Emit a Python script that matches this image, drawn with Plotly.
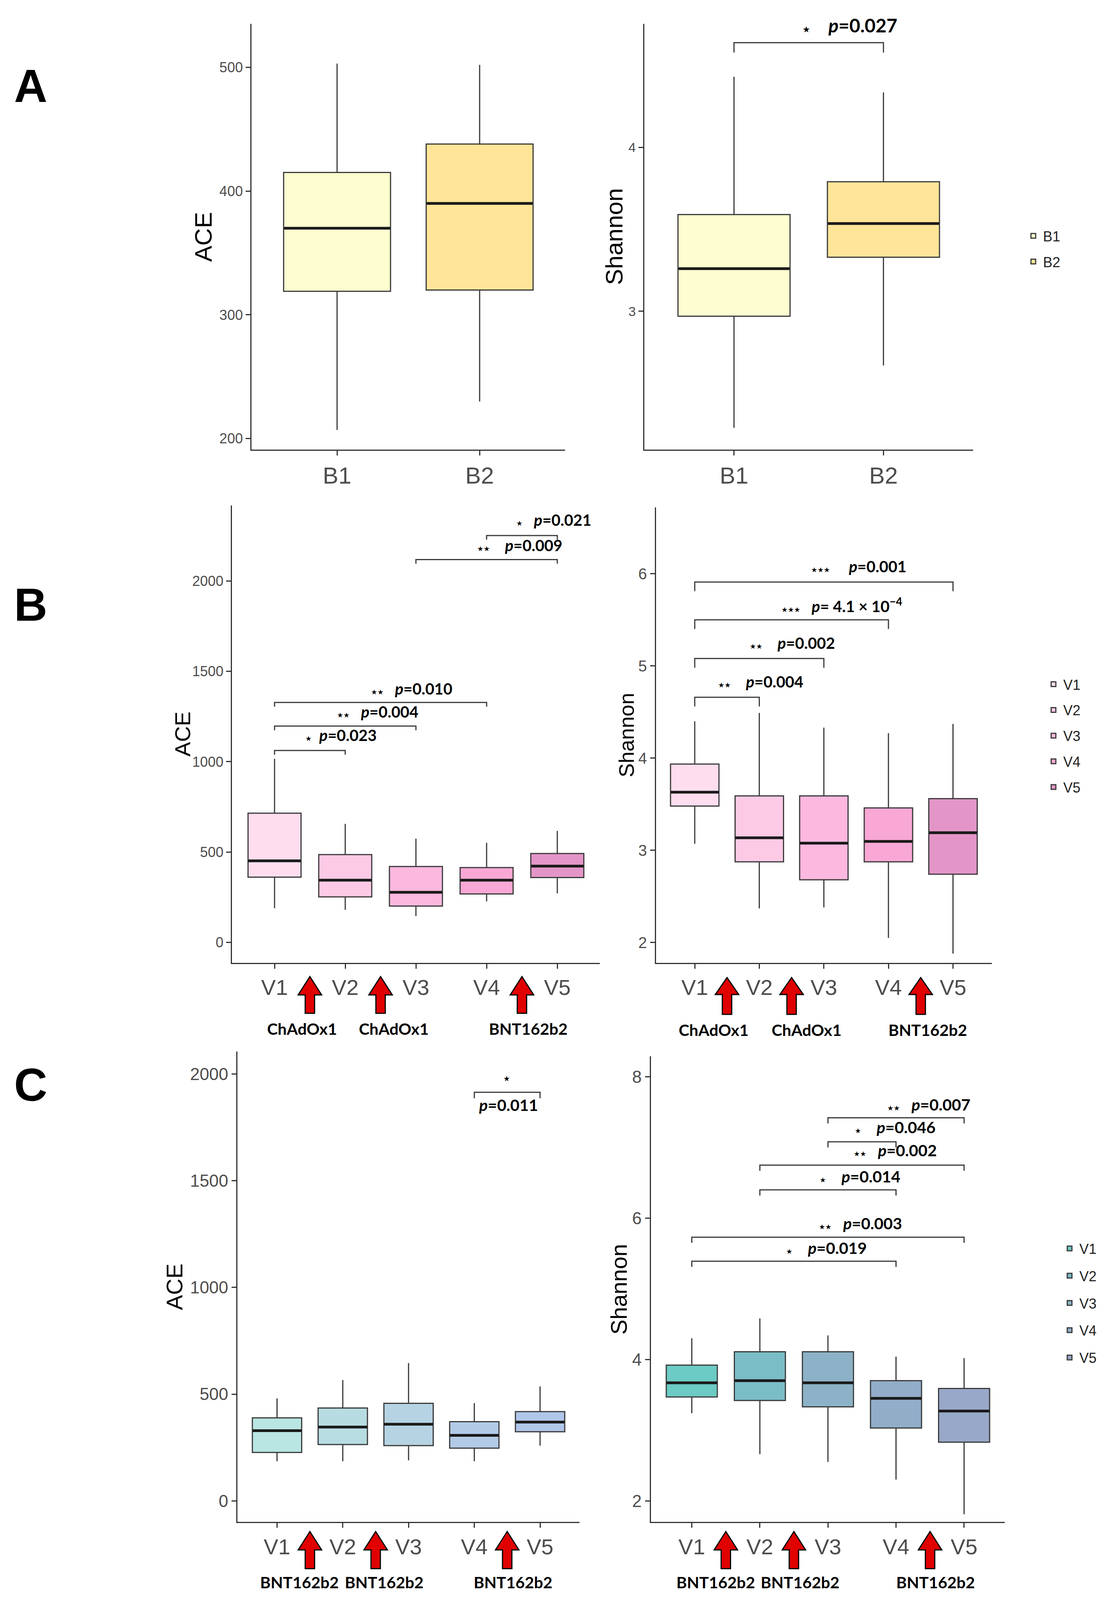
import plotly.graph_objects as go

# ------------------------------------------------------------------ data
a_groups = ["B1", "B2"]
a_ace_low = [207, 230]
a_ace_q1 = [319, 320]
a_ace_med = [370, 390]
a_ace_q3 = [415, 438]
a_ace_high = [503, 502]

a_sh_low = [2.29, 2.67]
a_sh_q1 = [2.97, 3.33]
a_sh_med = [3.26, 3.535]
a_sh_q3 = [3.59, 3.79]
a_sh_high = [4.43, 4.335]

visits = ["V1", "V2", "V3", "V4", "V5"]

b_ace_low = [189, 180, 145, 227, 271]
b_ace_q1 = [361, 252, 201, 268, 359]
b_ace_med = [451, 344, 277, 344, 422]
b_ace_q3 = [715, 486, 420, 414, 492]
b_ace_high = [1016, 656, 574, 551, 617]

b_sh_low = [3.07, 2.37, 2.38, 2.05, 1.88]
b_sh_q1 = [3.48, 2.875, 2.68, 2.875, 2.74]
b_sh_med = [3.63, 3.135, 3.077, 3.096, 3.19]
b_sh_q3 = [3.935, 3.59, 3.59, 3.46, 3.56]
b_sh_high = [4.40, 4.49, 4.33, 4.27, 4.37]

c_ace_low = [186, 186, 190, 186, 259]
c_ace_q1 = [227, 264, 259, 247, 324]
c_ace_med = [329, 346, 359, 307, 369]
c_ace_q3 = [389, 435, 457, 371, 418]
c_ace_high = [480, 566, 646, 458, 536]

c_sh_low = [3.24, 2.66, 2.55, 2.30, 1.81]
c_sh_q1 = [3.47, 3.42, 3.33, 3.03, 2.83]
c_sh_med = [3.67, 3.70, 3.67, 3.45, 3.27]
c_sh_q3 = [3.92, 4.11, 4.11, 3.70, 3.59]
c_sh_high = [4.30, 4.58, 4.34, 4.04, 4.02]

# significance brackets: group pairs, bracket heights, stars, p-value texts
a_sh_pairs = [(0, 1)]
a_sh_bracket_y = [4.638]
a_sh_stars = ["\u2605"]
a_sh_p = ["=0.027"]

b_ace_pairs = [(0, 1), (0, 2), (0, 3), (2, 4), (3, 4)]
b_ace_bracket_y = [1062, 1197, 1328, 2119, 2252]
b_ace_stars = ["\u2605", "\u2605\u2605", "\u2605\u2605", "\u2605\u2605", "\u2605"]
b_ace_p = ["=0.023", "=0.004", "=0.010", "=0.009", "=0.021"]

b_sh_pairs = [(0, 1), (0, 2), (0, 3), (0, 4)]
b_sh_bracket_y = [4.66, 5.08, 5.50, 5.91]
b_sh_stars = ["\u2605\u2605", "\u2605\u2605", "\u2605\u2605\u2605", "\u2605\u2605\u2605"]
b_sh_p = ["=0.004", "=0.002", "= 4.1 \u00d7 10<sup>\u22124</sup>", "=0.001"]

c_ace_pairs = [(3, 4)]
c_ace_bracket_y = [1914]
c_ace_stars = ["\u2605"]
c_ace_p = ["=0.011"]

c_sh_pairs = [(0, 3), (0, 4), (1, 3), (1, 4), (2, 3), (2, 4)]
c_sh_bracket_y = [5.39, 5.73, 6.40, 6.75, 7.08, 7.42]
c_sh_stars = ["\u2605", "\u2605\u2605", "\u2605", "\u2605\u2605", "\u2605", "\u2605\u2605"]
c_sh_p = ["=0.019", "=0.003", "=0.014", "=0.002", "=0.046", "=0.007"]

# vaccine doses given after these visit indices
b_dose_after = [0, 1, 3]
b_vaccines = ["ChAdOx1", "ChAdOx1", "BNT162b2"]
c_dose_after = [0, 1, 3]
c_vaccines = ["BNT162b2", "BNT162b2", "BNT162b2"]

# ------------------------------------------------------------------ styling
W, H = 2822, 4514          # reference geometry used for the layout fractions
TICK_GRAY = "#4d4d4d"
AX_COL = "#333333"
SANS = "Liberation Sans, Arial, sans-serif"
ANN = "Lato, Open Sans, sans-serif"
STAR_FONT = "DejaVu Sans"
NB = "\u00a0"

a_colors = ["#FDFDD0", "#FEE598"]
b_colors = ["#FDDDEE", "#FDCAE6", "#FCB8DE", "#F9A8D6", "#E495C8"]
c_left_colors = ["#B9E5E3", "#B7DDE2", "#B6D3E3", "#B2CAE6", "#AFC6E9"]
c_right_colors = ["#6CCBC4", "#7ABDC7", "#8DB2C7", "#91ADC8", "#98A8C8"]


def px_x(p):
    return p / W


def px_y(p):
    return 1 - p / H


fig = go.Figure()

# panel geometry (pixel boxes of the axis frames in the reference)
panels = {
    1: dict(x=(640, 1448), y=(59, 1265), xr=[-0.6, 1.6], yr=[191, 535]),
    2: dict(x=(1652, 2499), y=(59, 1265), xr=[-0.6, 1.6], yr=[2.156, 4.752]),
    3: dict(x=(590, 1537), y=(1423, 2718), xr=[-0.6, 4.6], yr=[-113, 2418]),
    4: dict(x=(1682, 2547), y=(1428, 2718), xr=[-0.6, 4.6], yr=[1.78, 6.72]),
    5: dict(x=(604, 1485), y=(2970, 4302), xr=[-0.6, 4.6], yr=[-99, 2104]),
    6: dict(x=(1669, 2581), y=(2983, 4302), xr=[-0.6, 4.6], yr=[1.70, 8.29]),
}


def axn(i):
    return "" if i == 1 else str(i)


def add_boxes(i, groups, low, q1, med, q3, high, colors, legend_name, showlegend):
    xa, ya = "x" + axn(i), "y" + axn(i)
    for k, g in enumerate(groups):
        fig.add_trace(go.Box(
            x=[k], q1=[q1[k]], median=[med[k]], q3=[q3[k]],
            lowerfence=[low[k]], upperfence=[high[k]],
            name=g, fillcolor=colors[k],
            line=dict(color="#3a3a3a", width=3),
            whiskerwidth=0, width=0.75, boxpoints=False,
            xaxis=xa, yaxis=ya, showlegend=showlegend,
            legend=legend_name, legendgroup=legend_name + g,
            hoverinfo="skip",
        ))
    # thick median bars
    mx, my = [], []
    for k in range(len(groups)):
        mx += [k - 0.372, k + 0.372, None]
        my += [med[k], med[k], None]
    fig.add_trace(go.Scatter(x=mx, y=my, mode="lines",
                             line=dict(color="#1a1a1a", width=7),
                             xaxis=xa, yaxis=ya, showlegend=False,
                             hoverinfo="skip"))


def add_brackets(i, pairs, heights, tick):
    xa, ya = "x" + axn(i), "y" + axn(i)
    bx, by = [], []
    for (g1, g2), h in zip(pairs, heights):
        bx += [g1, g1, g2, g2, None]
        by += [h - tick, h, h, h - tick, None]
    fig.add_trace(go.Scatter(x=bx, y=by, mode="lines",
                             line=dict(color="#3a3a3a", width=3),
                             xaxis=xa, yaxis=ya, showlegend=False,
                             hoverinfo="skip", cliponaxis=False))


def sig_label(stars, ptxt, star_size, gap):
    return (f"<span style='font-family:{STAR_FONT};font-size:{star_size}px'>{stars}</span>"
            f"<b>{gap}<i>p</i>{ptxt}</b>")


annotations = []


def add_sig_text(i, stars, ptexts, xs, ys, size, star_size, gaps):
    for k, (s, p) in enumerate(zip(stars, ptexts)):
        annotations.append(dict(
            text=sig_label(s, p, star_size, gaps[k]), x=xs[k], y=ys[k],
            xref="x" + axn(i), yref="y" + axn(i), showarrow=False,
            xanchor="center", yanchor="middle",
            font=dict(family=ANN, size=size, color="black")))


# ---- Panel A
add_boxes(1, a_groups, a_ace_low, a_ace_q1, a_ace_med, a_ace_q3, a_ace_high,
          a_colors, "legend", False)
add_boxes(2, a_groups, a_sh_low, a_sh_q1, a_sh_med, a_sh_q3, a_sh_high,
          a_colors, "legend", True)
add_brackets(2, a_sh_pairs, a_sh_bracket_y, 0.06)
add_sig_text(2, a_sh_stars, a_sh_p, [0.776], [4.745], 48, 22, [NB * 4])

# ---- Panel B
add_boxes(3, visits, b_ace_low, b_ace_q1, b_ace_med, b_ace_q3, b_ace_high,
          b_colors, "legend2", False)
add_boxes(4, visits, b_sh_low, b_sh_q1, b_sh_med, b_sh_q3, b_sh_high,
          b_colors, "legend2", True)
add_brackets(3, b_ace_pairs, b_ace_bracket_y, 23)
add_brackets(4, b_sh_pairs, b_sh_bracket_y, 0.1)
add_sig_text(3, b_ace_stars, b_ace_p, [0.94, 1.46, 1.94, 3.47, 3.95],
             [1146, 1277, 1404, 2197, 2338], 40, 18,
             [NB * 2, NB * 3, NB * 3, NB * 4, NB * 3])
add_sig_text(4, b_sh_stars, b_sh_p, [1.02, 1.51, 2.28, 2.54],
             [4.83, 5.25, 5.66, 6.08], 40, 18,
             [NB * 4, NB * 4, NB * 3, NB * 5])

# ---- Panel C
add_boxes(5, visits, c_ace_low, c_ace_q1, c_ace_med, c_ace_q3, c_ace_high,
          c_left_colors, "legend3", False)
add_boxes(6, visits, c_sh_low, c_sh_q1, c_sh_med, c_sh_q3, c_sh_high,
          c_right_colors, "legend3", True)
add_brackets(5, c_ace_pairs, c_ace_bracket_y, 28)
add_brackets(6, c_sh_pairs, c_sh_bracket_y, 0.08)
# panel C left: star above bracket, p-value below
annotations.append(dict(text=f"<span style='font-family:{STAR_FONT}'>{c_ace_stars[0]}</span>",
                        x=3.49, y=1978, xref="x5", yref="y5", showarrow=False,
                        font=dict(family=ANN, size=19, color="black")))
annotations.append(dict(text="<b><i>p</i>" + c_ace_p[0] + "</b>", x=3.52, y=1855,
                        xref="x5", yref="y5", showarrow=False,
                        font=dict(family=ANN, size=41, color="black")))
add_sig_text(6, c_sh_stars, c_sh_p, [1.98, 2.48, 2.47, 2.99, 2.99, 3.48],
             [5.58, 5.93, 6.59, 6.96, 7.29, 7.61], 41, 18,
             [NB * 4, NB * 3, NB * 4, NB * 3, NB * 4, NB * 3])

# ---- vaccination arrows and labels (vertical geometry as reference-pixel rows)
shapes = []
arrow_specs = [
    # panel, doses, vaccines, (tip, head base, bottom) rows, label row, label x
    (3, b_dose_after, b_vaccines, (2757, 2809, 2861), 2905, [0.39, 1.69, 3.59]),
    (4, b_dose_after, b_vaccines, (2760, 2808, 2864), 2908, [0.29, 1.73, 3.61]),
    (5, c_dose_after, c_vaccines, (4329, 4381, 4434), 4473, [0.34, 1.63, 3.59]),
    (6, c_dose_after, c_vaccines, (4329, 4381, 4434), 4473, [0.35, 1.59, 3.58]),
]
for i, doses, vacc, (tip, base, bot), lab_row, lab_x in arrow_specs:
    yt, yb, yo = px_y(tip), px_y(base), px_y(bot)
    for k, d in enumerate(doses):
        path = (f"M0,{yt:.5f} L30,{yb:.5f} L12,{yb:.5f} L12,{yo:.5f} "
                f"L-12,{yo:.5f} L-12,{yb:.5f} L-30,{yb:.5f} Z")
        shapes.append(dict(type="path", xref="x" + axn(i), yref="paper",
                           xsizemode="pixel", xanchor=d + 0.5, path=path,
                           fillcolor="#E00000", line=dict(color="black", width=3),
                           layer="above"))
        annotations.append(dict(text="<b>" + vacc[k] + "</b>", x=lab_x[k],
                                y=px_y(lab_row), xref="x" + axn(i), yref="paper",
                                showarrow=False, xanchor="center", yanchor="middle",
                                font=dict(family=ANN, size=41, color="black")))

# ---- panel letters
for letter, cy in [("A", 235), ("B", 1704), ("C", 3064)]:
    annotations.append(dict(text="<b>" + letter + "</b>", x=px_x(71), y=px_y(cy),
                            xref="paper", yref="paper", showarrow=False,
                            xanchor="center", yanchor="middle",
                            font=dict(family=SANS, size=118, color="black")))

# ---- axes
axis_text = {
    1: dict(tt=a_groups, ttl="ACE", xfs=60, yfs=36, tfs=62, tx=515, tv=[200, 300, 400, 500]),
    2: dict(tt=a_groups, ttl="Shannon", xfs=60, yfs=34, tfs=62, tx=1574, tv=[3, 4]),
    3: dict(tt=visits, ttl="ACE", xfs=56, yfs=36, tfs=56, tx=462, tv=[0, 500, 1000, 1500, 2000]),
    4: dict(tt=visits, ttl="Shannon", xfs=56, yfs=40, tfs=54, tx=1605, tv=[2, 3, 4, 5, 6]),
    5: dict(tt=visits, ttl="ACE", xfs=56, yfs=44, tfs=58, tx=441, tv=[0, 500, 1000, 1500, 2000]),
    6: dict(tt=visits, ttl="Shannon", xfs=56, yfs=44, tfs=58, tx=1586, tv=[2, 4, 6, 8]),
}

layout_axes = {}
for i, p in panels.items():
    t = axis_text[i]
    common = dict(showline=True, linecolor=AX_COL, linewidth=3, ticks="outside",
                  ticklen=12, tickwidth=3, tickcolor=AX_COL, showgrid=False,
                  zeroline=False, fixedrange=True)
    layout_axes["xaxis" + axn(i)] = dict(
        domain=[px_x(p["x"][0]), px_x(p["x"][1])], anchor="y" + axn(i),
        range=p["xr"], tickmode="array", tickvals=list(range(len(t["tt"]))),
        ticktext=t["tt"], tickfont=dict(family=SANS, size=t["xfs"], color=TICK_GRAY),
        **common)
    layout_axes["yaxis" + axn(i)] = dict(
        domain=[px_y(p["y"][1]), px_y(p["y"][0])], anchor="x" + axn(i),
        range=p["yr"], tickmode="array", tickvals=t["tv"],
        tickfont=dict(family=SANS, size=t["yfs"], color=TICK_GRAY),
        **common)
    # y-axis title, placed as rotated text beside the axis
    annotations.append(dict(text=t["ttl"], x=px_x(t["tx"]),
                            y=px_y((p["y"][0] + p["y"][1]) / 2),
                            xref="paper", yref="paper", textangle=-90,
                            showarrow=False, xanchor="center", yanchor="middle",
                            font=dict(family=SANS, size=t["tfs"], color="black")))

legend_common = dict(bgcolor="rgba(0,0,0,0)", font=dict(family=SANS, size=36, color="#222222"),
                     itemwidth=40, xanchor="left", yanchor="top")

fig.update_layout(
    autosize=True,
    margin=dict(l=0, r=0, t=0, b=0),
    paper_bgcolor="white", plot_bgcolor="white",
    showlegend=True,
    legend=dict(x=px_x(2628), y=px_y(626), tracegroupgap=16, **legend_common),
    legend2=dict(x=px_x(2680), y=px_y(1896), tracegroupgap=16, **legend_common),
    legend3=dict(x=px_x(2722), y=px_y(3494), tracegroupgap=20, **legend_common),
    annotations=annotations,
    shapes=shapes,
    **layout_axes,
)

# the figure fills the browser window it is opened in
fig.write_html("out.html", default_width="calc(100vw - 16px)",
               default_height="calc(100vh - 16px)")
